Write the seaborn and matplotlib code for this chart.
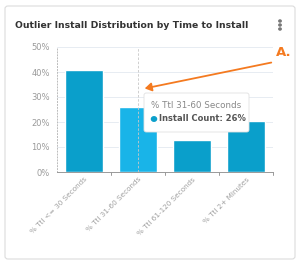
import matplotlib
matplotlib.use("Agg")
import matplotlib.pyplot as plt
import seaborn as sns
import pandas as pd
from matplotlib.patches import FancyBboxPatch, Circle, FancyArrowPatch
from matplotlib.ticker import MultipleLocator, FuncFormatter

categories = ["% Ttl <= 30 Seconds", "% Ttl 31-60 Seconds", "% Ttl 61-120 Seconds", "% Ttl 2+ Minutes"]
values = [41, 26, 13, 20.5]
bar_colors = ["#0a9fcb", "#19b4e8", "#0a9fcb", "#0a9fcb"]
title = "Outlier Install Distribution by Time to Install"
tooltip_title = "% Ttl 31-60 Seconds"
tooltip_value = "Install Count: 26%"

sns.set_theme(style="white")
plt.rcParams['font.family'] = ['DejaVu Sans']

W, H = 300, 264
fig = plt.figure(figsize=(W/100, H/100), dpi=100)
fig.patch.set_facecolor("white")

def fx(px): return px / W
def fy(py): return 1 - py / H

# card
card = FancyBboxPatch((fx(5), fy(259)), fx(290), (259-6)/H, boxstyle="round,pad=0,rounding_size=0.01",
                      transform=fig.transFigure, facecolor="white", edgecolor="#dcdcdc", lw=0.8, zorder=-5)
fig.add_artist(card)

fig.text(fx(15), fy(25), title, fontsize=6.7, fontweight="bold", color="#333333", va="center", ha="left")
for dy in (-4, 0, 4):
    fig.add_artist(Circle((fx(280), fy(25 + dy)), 0.004, transform=fig.transFigure, color="#777777"))

ax = fig.add_axes([fx(57), fy(172), fx(273) - fx(57), fy(47) - fy(172)])
ax.set_facecolor("none")
ax.set_zorder(1)
df = pd.DataFrame({"cat": categories, "val": values})
sns.barplot(data=df, x="cat", y="val", hue="cat", palette=bar_colors, width=0.69,
            legend=False, ax=ax, saturation=1, zorder=3)
ax.set_ylim(0, 50)
ax.set_xlim(-0.5, 3.5)
ax.set_xlabel("")
ax.set_ylabel("")
ax.yaxis.set_major_locator(MultipleLocator(10))
ax.yaxis.set_minor_locator(MultipleLocator(2))
ax.yaxis.set_major_formatter(FuncFormatter(lambda v, p: f"{int(v)}%"))
ax.grid(axis="y", color="#e3e9f0", lw=0.6, zorder=0)
ax.grid(axis="x", visible=False)
for s in ["top", "right"]:
    ax.spines[s].set_visible(False)
ax.spines["left"].set_color("#bbbbbb")
ax.spines["left"].set_linestyle((0, (1, 2)))
ax.spines["left"].set_linewidth(0.7)
ax.spines["bottom"].set_color("#999999")
ax.spines["bottom"].set_linewidth(0.7)
ax.tick_params(axis="y", which="major", labelsize=6, labelcolor="#9a9a9a", length=0, pad=5)
ax.tick_params(axis="y", which="minor", length=0)
ax.set_xticks(range(len(categories)))
ax.set_xticklabels(categories, rotation=45, ha="right", rotation_mode="anchor",
                   fontsize=5.2, color="#a0a0a0")
ax.tick_params(axis="x", length=0, pad=3)
for b in [0.5, 1.5, 2.5, 3.5]:
    ax.plot([b, b], [0, -1.2], color="#999999", lw=0.7, clip_on=False)
# crosshair
ax.axvline(1, color="#c8c8c8", lw=0.6, ls=(0, (3, 2)), zorder=4)

# tooltip
tip = FancyBboxPatch((fx(144), fy(132)), fx(249) - fx(144), (132-93)/H,
                     boxstyle="round,pad=0,rounding_size=0.008", transform=fig.transFigure,
                     facecolor="white", edgecolor="#e0e0e0", lw=0.6, zorder=10)
fig.add_artist(tip)
fig.text(fx(151), fy(106), tooltip_title, fontsize=6.3, color="#888888", va="center", ha="left", zorder=11)
fig.add_artist(Circle((fx(154), fy(119)), 0.0085, transform=fig.transFigure, color="#0a9fcb", zorder=11))
fig.text(fx(159), fy(119), tooltip_value, fontsize=6, fontweight="bold", color="#555555",
         va="center", ha="left", zorder=11)

# annotation arrow
fig.add_artist(FancyArrowPatch((fx(274), fy(62)), (fx(142), fy(89)),
               transform=fig.transFigure, arrowstyle="-|>,head_length=4,head_width=2.5",
               color="#f47a20", lw=1.3, zorder=12))
fig.text(fx(284), fy(52), "A.", fontsize=9.5, fontweight="bold", color="#f47a20", va="center", ha="center")

fig.savefig("out.png", dpi=100)
